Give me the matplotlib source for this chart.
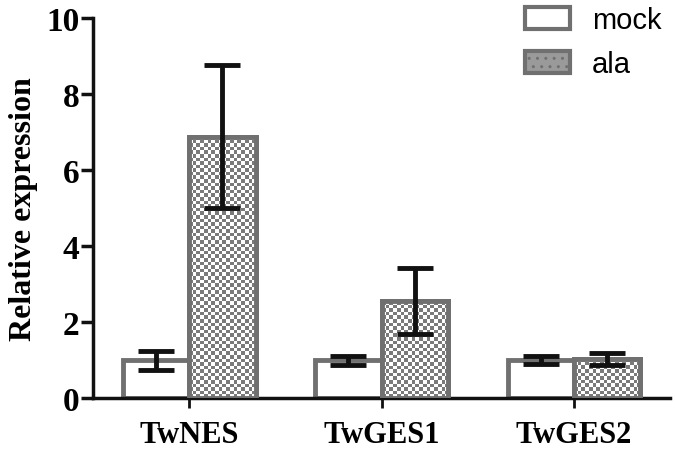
import numpy as np
import matplotlib
matplotlib.use("Agg")
import matplotlib.pyplot as plt
from matplotlib.patches import Patch
from matplotlib.colors import ListedColormap

# values
genes = ["TwNES", "TwGES1", "TwGES2"]
mock_mean = [1.0, 1.0, 1.0]
mock_err = [0.25, 0.12, 0.11]
ala_mean = [6.88, 2.55, 1.03]
ala_err = [1.89, 0.86, 0.15]

edge = "#707070"
serif = "Liberation Serif"

fig = plt.figure(figsize=(6.75, 4.52), dpi=100)
ax = fig.add_axes([0.1378, 0.117, 0.855, 0.841])

x = np.arange(len(genes))
w = 0.345

# checkerboard texture used for the "ala" bars
n = 400
checker = (np.add.outer(np.arange(n), np.arange(n)) % 2).astype(float)
checker_cmap = ListedColormap(["#7a7a7a", "#ffffff"])

mock_bars = ax.bar(x - w / 2, mock_mean, w, color="white", edgecolor=edge,
                   linewidth=3.5, zorder=2)
ala_bars = ax.bar(x + w / 2, ala_mean, w, color="white", edgecolor=edge,
                  linewidth=3.5, zorder=2)

for b in ala_bars:
    x0, x1 = b.get_x(), b.get_x() + b.get_width()
    h = b.get_height()
    # roughly square cells of ~3.5 px
    ncols = int(round(b.get_width() * 191.5 / 3.6))
    nrows = int(round(h * 38.0 / 3.6))
    im = ax.imshow(checker[:nrows, :ncols], cmap=checker_cmap, vmin=0, vmax=1,
                   extent=(x0, x1, 0, h), aspect="auto", interpolation="nearest",
                   zorder=2.5)
    im.set_clip_path(b)
    # redraw outline over the texture
    ax.bar(b.get_x() + w / 2, h, w, color="none", edgecolor=edge,
           linewidth=3.5, zorder=3)

ax.errorbar(x - w / 2, mock_mean, yerr=mock_err, fmt="none", ecolor="#111111",
            elinewidth=3.5, capsize=13, capthick=3.5, zorder=4)
ax.errorbar(x + w / 2, ala_mean, yerr=ala_err, fmt="none", ecolor="#111111",
            elinewidth=3.5, capsize=13, capthick=3.5, zorder=4)

ax.set_xlim(-0.5, 2.5)
ax.set_ylim(0, 10)
ax.set_yticks([0, 2, 4, 6, 8, 10])
ax.set_xticks(x)
ax.set_xticklabels(genes, fontfamily=serif, fontweight="bold", fontsize=22)
for t in ax.get_yticklabels():
    t.set_fontfamily(serif)
    t.set_fontweight("bold")
    t.set_fontsize(24)
ax.set_ylabel("Relative expression", fontfamily=serif, fontweight="bold",
              fontsize=23, labelpad=6)

for s in ["top", "right"]:
    ax.spines[s].set_visible(False)
for s in ["left", "bottom"]:
    ax.spines[s].set_linewidth(2.5)
    ax.spines[s].set_color("#111111")
ax.tick_params(axis="y", width=2.5, length=9, color="#111111", pad=1)
ax.tick_params(axis="x", width=2, length=7, color="#111111", pad=9)

handles = [Patch(facecolor="white", edgecolor=edge, linewidth=3, label="mock"),
           Patch(facecolor="#9a9a9a", edgecolor=edge, linewidth=3, hatch="..",
                 label="ala")]
leg = ax.legend(handles=handles, loc="upper right", bbox_to_anchor=(1.03, 1.10),
                frameon=False, prop={"family": "Liberation Sans", "size": 21},
                handlelength=1.55, handleheight=0.75, labelspacing=0.55,
                handletextpad=0.75)

fig.savefig("out.png", dpi=100)
